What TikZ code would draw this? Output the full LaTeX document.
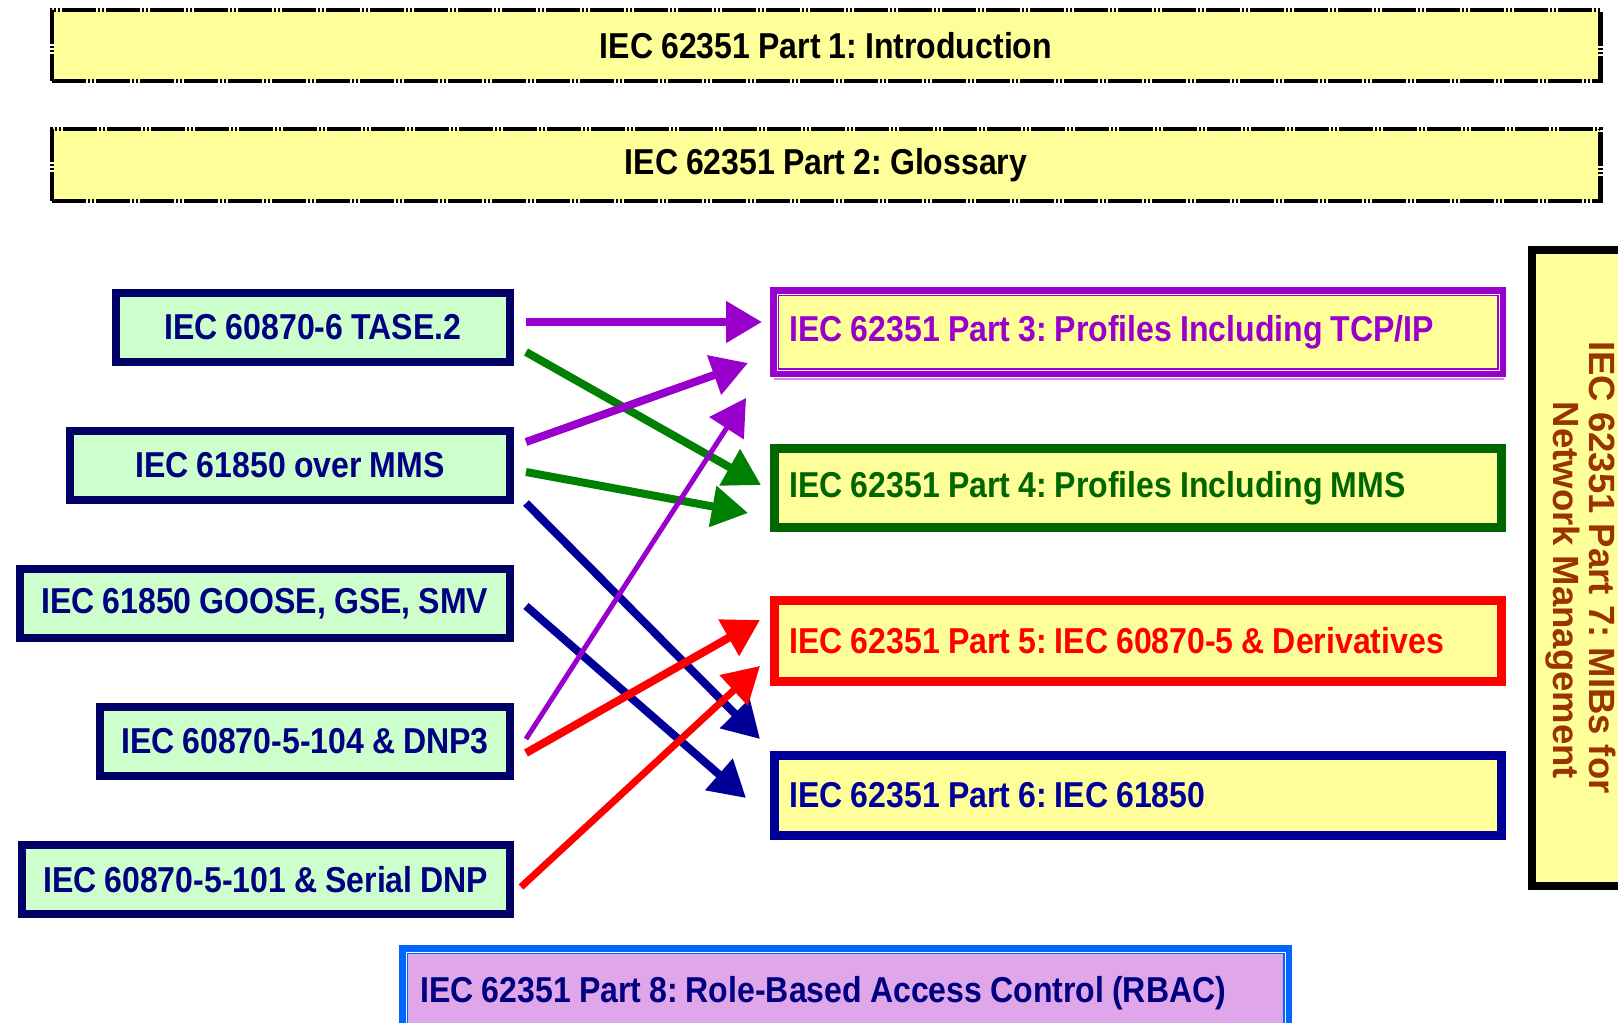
\documentclass[tikz,border=0pt]{standalone}
\usepackage{fontspec}
\setmainfont{Liberation Sans}
\newfontfamily\narrowfont{Liberation Sans}[FakeStretch=0.89,WordSpace=0.9]
\usetikzlibrary{arrows.meta,calc}
\definecolor{boxyellow}{HTML}{FFFF99}
\definecolor{leftgreen}{HTML}{CCFFCC}
\definecolor{leftnavy}{HTML}{000066}
\definecolor{textnavy}{HTML}{000080}
\definecolor{cpurple}{HTML}{9900CC}
\definecolor{cgreen}{HTML}{006600}
\definecolor{agreen}{HTML}{008000}
\definecolor{cred}{HTML}{FF0000}
\definecolor{cnavy}{HTML}{000099}
\definecolor{cbrown}{HTML}{993300}
\definecolor{cblue}{HTML}{0066FF}
\definecolor{cplum}{HTML}{E0A6EA}
\newcommand{\lefttext}[2]{\makebox[#1][l]{#2}}
\tikzset{
  every node/.style={font=\frenchspacing\narrowfont\bfseries\fontsize{36}{40}\selectfont},
  topbox/.style={draw=black, line width=4.5pt, dash pattern=on 34pt off 2pt on 2pt off 2pt on 2pt off 2pt,
    fill=boxyellow, minimum width=1548.5pt, minimum height=71pt, inner sep=0pt},
  leftbox/.style={draw=leftnavy, line width=8pt, fill=leftgreen, text=textnavy, inner sep=0pt, minimum height=69pt},
  rightbox/.style={line width=9pt, fill=boxyellow, inner xsep=15pt, inner ysep=0pt, minimum height=80pt},
  innerline/.style={white, line width=0.8pt},
  arr/.style={line width=8pt, -{Triangle[length=36pt,width=40pt]}},
}
\begin{document}
\begin{tikzpicture}[x=1pt,y=1pt]
\useasboundingbox (0,0) rectangle (1618,-1023);
\clip (0,0) rectangle (1618,-1023);

% top boxes
\node[topbox] (p1) at (826,-45.5) {IEC 62351 Part 1: Introduction};
\node[topbox, minimum height=72pt] (p2) at (826,-165) {IEC 62351 Part 2: Glossary};

% left boxes
\node[leftbox, minimum width=394.5pt] (tase) at (312.75,-327.5) {IEC 60870-6 TASE.2};
\node[leftbox, minimum width=440pt] (mms) at (290,-465.5) {IEC 61850 over MMS};
\node[leftbox, minimum width=490.5pt] (goose) at (264.75,-603.5) {IEC 61850 GOOSE, GSE, SMV};
\node[leftbox, minimum width=410pt] (n104) at (305,-741.5) {IEC 60870-5-104 \& DNP3};
\node[leftbox, minimum width=488.5pt] (n101) at (265.75,-879.5) {IEC 60870-5-101 \& Serial DNP};

% right boxes
\node[rightbox, draw=cpurple, text=cpurple, minimum height=81pt] (p3) at (1138,-332) {\lefttext{697pt}{IEC 62351 Part 3: Profiles Including TCP/IP}};
\draw[innerline] ($(p3.north west)+(7,-7)$) rectangle ($(p3.south east)+(-7,7)$);
\draw[cpurple!45, line width=1.5pt] ($(p3.south west)+(4,-2)$) -- ($(p3.south east)+(-2,-2)$);
\node[rightbox, draw=cgreen, text=cgreen, minimum height=79pt] (p4) at (1138,-488) {\lefttext{697pt}{IEC 62351 Part 4: Profiles Including MMS}};
\node[rightbox, draw=cred, text=cred, minimum height=81pt] (p5) at (1138,-641) {\lefttext{697pt}{IEC 62351 Part 5: IEC 60870-5 \& Derivatives}};
\node[rightbox, draw=cnavy, text=cnavy] (p6) at (1138,-795.5) {\lefttext{697pt}{IEC 62351 Part 6: IEC 61850}};

% part 7
\node[draw=black, line width=8pt, fill=boxyellow, rotate=-90, minimum width=636pt, minimum height=99pt,
  inner sep=0pt, align=center, text=cbrown, font=\frenchspacing\bfseries\fontsize{36.5}{36}\selectfont]
  (p7) at (1581,-567.5) {IEC 62351 Part 7: MIBs for\\\hspace*{46pt}Network Management};

% part 8
\node[draw=cblue, line width=9pt, fill=cplum, minimum height=87pt, inner xsep=17pt,
  inner ysep=0pt, text=textnavy] (p8) at (845.5,-993) {\lefttext{850pt}{IEC 62351 Part 8: Role-Based Access Control (RBAC)}};
\draw[innerline] ($(p8.north west)+(7,-7)$) rectangle ($(p8.south east)+(-7,7)$);

% arrows
\draw[arr, cpurple] ($(tase.east)+(12,5.5)$) -- ($(p3.west)+(-8,10)$);
\draw[arr, agreen] ($(tase.east)+(12,-24.5)$) -- ($(p4.west)+(-9,3)$);
\draw[arr, cpurple] ($(mms.east)+(12,23.5)$) -- ($(p3.west)+(-22,-31)$);
\draw[arr, agreen] ($(mms.east)+(12,-6.5)$) -- ($(p4.west)+(-22,-25)$);
\draw[arr, cnavy] ($(mms.east)+(12,-37.5)$) -- ($(p6.west)+(-10,56.5)$);
\draw[arr, cnavy] ($(goose.east)+(12,-2.5)$) -- ($(p6.west)+(-24,-2.5)$);
\draw[arr, cpurple, line width=5pt] ($(n104.east)+(12,2.5)$) -- ($(p3.west)+(-24,-66)$);
\draw[arr, cred] ($(n104.east)+(12,-11.5)$) -- ($(p5.west)+(-10,21)$);
\draw[arr, cred, line width=7pt] ($(n101.east)+(7,-7.5)$) -- ($(p5.west)+(-10,-25)$);
\end{tikzpicture}
\end{document}
